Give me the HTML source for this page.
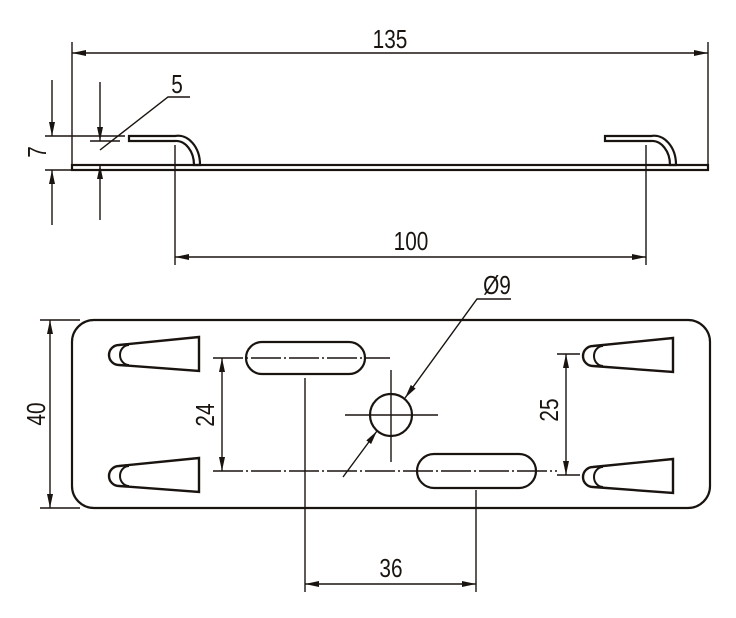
<!DOCTYPE html>
<html><head><style>body{margin:0;background:#fff}svg{display:block}text{font-family:"Liberation Sans",sans-serif;fill:#1a1410}</style></head>
<body>
<svg width="736" height="618" viewBox="0 0 736 618" xmlns="http://www.w3.org/2000/svg">
<defs>
<marker id="a" viewBox="0 0 14 6" refX="14" refY="3" markerWidth="14" markerHeight="6" orient="auto-start-reverse" markerUnits="userSpaceOnUse"><path d="M0,0 L14,3 L0,6 Z" fill="#1a1410"/></marker>
<g id="tab"><path d="M0,-16 L-80,-8 A10 10 0 0 0 -80,12 L0,18 Z" fill="none" stroke="#1a1410" stroke-width="2.4"/><path d="M-70,-8 A9 10 0 0 0 -70,12" fill="none" stroke="#1a1410" stroke-width="2"/></g>
</defs>
<g stroke="#1a1410" fill="none" stroke-width="1.4">
<line x1="72" y1="42" x2="72" y2="168"/><line x1="708" y1="42" x2="708" y2="170"/>
<line x1="72" y1="53" x2="708" y2="53" marker-start="url(#a)" marker-end="url(#a)"/>
<rect x="72" y="165" width="636" height="5" stroke-width="2.2"/>
<path d="M129,136 L175,136 A22 29 0 0 1 200,165 L194,165 A18 24 0 0 0 175,141 L129,141 Z" stroke-width="2.2"/>
<path d="M651,136 L605,136 L605,141 L651,141 A18 24 0 0 1 670,165 L676,165 A22 29 0 0 0 651,136 Z" stroke-width="2.2"/>
<line x1="175" y1="145" x2="175" y2="265"/><line x1="646" y1="145" x2="646" y2="265"/>
<line x1="175" y1="257" x2="646" y2="257" marker-start="url(#a)" marker-end="url(#a)"/>
<line x1="45" y1="136" x2="125" y2="136"/><line x1="45" y1="170" x2="72" y2="170"/>
<line x1="52" y1="80" x2="52" y2="136" marker-end="url(#a)"/><line x1="52" y1="225" x2="52" y2="170" marker-end="url(#a)"/>
<line x1="90" y1="141" x2="120" y2="141"/>
<line x1="100" y1="82" x2="100" y2="141" marker-end="url(#a)"/><line x1="100" y1="220" x2="100" y2="165" marker-end="url(#a)"/>
<polyline points="100,150 168,97 190,97"/>
<rect x="72" y="320" width="638" height="188" rx="22" stroke-width="2.2"/>
<rect x="246" y="342" width="119" height="32" rx="16" stroke-width="2.2"/>
<rect x="417" y="454" width="119" height="34" rx="17" stroke-width="2.2"/>
<circle cx="391" cy="415" r="21" stroke-width="2.2"/>
<line x1="345" y1="415" x2="438" y2="415"/><line x1="391" y1="370" x2="391" y2="462"/>
<line x1="213" y1="358" x2="390" y2="358" stroke-dasharray="30 3 2 3"/>
<line x1="213" y1="471" x2="557" y2="471" stroke-dasharray="30 3 2 3"/>
<line x1="222" y1="358" x2="222" y2="471" marker-start="url(#a)" marker-end="url(#a)"/>
<line x1="557" y1="354" x2="580" y2="354"/><line x1="557" y1="475" x2="580" y2="475"/>
<line x1="566" y1="354" x2="566" y2="475" marker-start="url(#a)" marker-end="url(#a)"/>
<line x1="343" y1="477" x2="377" y2="431" marker-end="url(#a)"/>
<polyline points="511,299 477,299 405,398" marker-end="url(#a)"/>
<line x1="40" y1="320" x2="80" y2="320"/><line x1="40" y1="508" x2="80" y2="508"/>
<line x1="50" y1="320" x2="50" y2="508" marker-start="url(#a)" marker-end="url(#a)"/>
<line x1="305" y1="378" x2="305" y2="592"/><line x1="476" y1="490" x2="476" y2="592"/>
<line x1="305" y1="584" x2="476" y2="584" marker-start="url(#a)" marker-end="url(#a)"/>
</g>
<use href="#tab" x="199" y="353"/><use href="#tab" x="199" y="474"/>
<use href="#tab" x="673" y="354"/><use href="#tab" x="673" y="475"/>
<g font-size="26">
<text transform="translate(390,48) scale(0.8,1)" text-anchor="middle">135</text>
<text transform="translate(411,250) scale(0.8,1)" text-anchor="middle">100</text>
<text transform="translate(177,93) scale(0.8,1)" text-anchor="middle">5</text>
<text transform="translate(46,152) rotate(-90) scale(0.8,1)" text-anchor="middle">7</text>
<text transform="translate(497,294) scale(0.8,1)" text-anchor="middle">Ø9</text>
<text transform="translate(214,415) rotate(-90) scale(0.8,1)" text-anchor="middle">24</text>
<text transform="translate(558,410) rotate(-90) scale(0.8,1)" text-anchor="middle">25</text>
<text transform="translate(45,414) rotate(-90) scale(0.8,1)" text-anchor="middle">40</text>
<text transform="translate(391,577) scale(0.8,1)" text-anchor="middle">36</text>
</g>
</svg>
</body></html>
